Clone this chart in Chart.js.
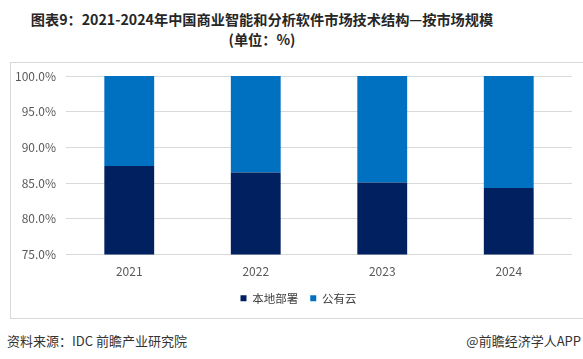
<!DOCTYPE html>
<html>
<head>
<meta charset="utf-8">
<script src="https://cdn.jsdelivr.net/npm/chart.js@4/dist/chart.umd.min.js"></script>
<style>
  body { margin: 0; width: 583px; height: 359px; background: #fff; overflow: hidden; position: relative; font-family: "Noto Sans CJK SC", sans-serif; }
  #title { position: absolute; left: 0; top: 9px; width: 524px; text-align: center; font-weight: bold; font-size: 14.2px; line-height: 20px; color: #262626; }
  #box { position: absolute; left: 10px; top: 62px; width: 580px; height: 255px; border: 1px solid #d9d9d9; }
  #source { position: absolute; left: 7px; top: 331px; font-size: 13px; color: #333; }
  #brand { position: absolute; right: 2px; top: 331px; font-size: 13px; color: #333; }
</style>
</head>
<body>
<div id="title">图表9：2021-2024年中国商业智能和分析软件市场技术结构—按市场规模<br>(单位：%)</div>
<div id="box"><canvas id="chart" width="580" height="255"></canvas></div>
<div id="source">资料来源：IDC 前瞻产业研究院</div>
<div id="brand">@前瞻经济学人APP</div>
<script>
const years = ["2021", "2022", "2023", "2024"];
const onPremise = [87.4, 86.5, 85.1, 84.3];
const publicCloud = [12.6, 13.5, 14.9, 15.7];

const ctx = document.getElementById("chart").getContext("2d");

// nudge the legend a little to the right, as in the original
const legendShift = {
  id: "legendShift",
  afterLayout(chart) {
    chart.legend.left += 7;
    chart.legend.right += 7;
  }
};

new Chart(ctx, {
  type: "bar",
  data: {
    labels: years,
    datasets: [
      { label: "本地部署", data: onPremise, backgroundColor: "#002060" },
      { label: "公有云", data: publicCloud, backgroundColor: "#0070c0" }
    ]
  },
  options: {
    responsive: false,
    animation: false,
    layout: { padding: { top: 13, right: 19, bottom: 4, left: 0 } },
    datasets: { bar: { barPercentage: 0.394, categoryPercentage: 1 } },
    plugins: {
      legend: {
        position: "bottom",
        labels: {
          boxWidth: 6, boxHeight: 6, padding: 12,
          color: "#404040",
          font: { family: "Noto Sans CJK SC", size: 11.5 }
        }
      },
      tooltip: { enabled: false }
    },
    scales: {
      x: {
        stacked: true,
        grid: { display: false },
        border: { display: false },
        ticks: { color: "#595959", padding: 2, font: { family: "Noto Sans CJK SC", size: 12 } },
        afterFit: function (scale) { scale.height = 26; }
      },
      y: {
        stacked: true,
        min: 75, max: 100,
        grid: { color: "#d9d9d9", drawTicks: false },
        border: { display: false },
        ticks: {
          stepSize: 5, padding: 10,
          color: "#595959",
          font: { family: "Noto Sans CJK SC", size: 12 },
          callback: function (v) { return v.toFixed(1) + "%"; }
        },
        afterFit: function (scale) {
          scale.width = 55;
          scale.paddingTop = 0;
          scale.paddingBottom = 0;
        }
      }
    }
  },
  plugins: [legendShift]
});
</script>
</body>
</html>
